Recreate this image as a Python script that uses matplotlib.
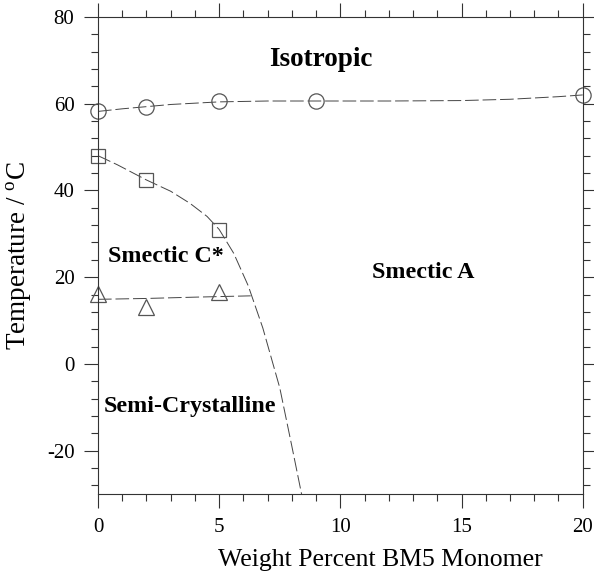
import numpy as np
import matplotlib
matplotlib.use("Agg")
import matplotlib.pyplot as plt
from matplotlib.ticker import MultipleLocator

plt.rcParams['font.family'] = ['Liberation Serif', 'DejaVu Serif']
plt.rcParams['mathtext.fontset'] = 'custom'
plt.rcParams['mathtext.rm'] = 'Liberation Serif'
plt.rcParams['axes.unicode_minus'] = False

# measured points
iso_x = [0, 2, 5, 9, 20]
iso_y = [58.3, 59.2, 60.5, 60.5, 62.0]
sq_x = [0, 2, 5]
sq_y = [48.0, 42.4, 30.9]
tri_x = [0, 2, 5]
tri_y = [16.2, 13.2, 16.5]

# boundary lines as drawn in the figure
iso_line_x = [0, 1, 2, 3, 5, 7, 9, 12, 15, 17, 18, 19, 20]
iso_line_y = [58.2, 58.8, 59.3, 59.8, 60.4, 60.6, 60.6, 60.6, 60.7, 61.0, 61.3, 61.6, 62.0]
ca_line_x = [0, 0.8, 2, 3.0, 3.8, 4.5, 5, 5.6, 6.2, 6.8, 7.5, 8.0, 8.4]
ca_line_y = [48.0, 45.9, 42.4, 39.8, 37.0, 34.0, 31.0, 25.5, 18.0, 8.3, -5.5, -19.0, -30.0]
cs_line_x = [0, 2, 4, 6.3]
cs_line_y = [14.9, 15.1, 15.4, 15.7]

fig = plt.figure(figsize=(5.94, 5.80), dpi=100)
ax = fig.add_axes([0.165, 0.148, 0.816, 0.823])

lc = '#444444'
ax.plot(iso_line_x, iso_line_y, color=lc, lw=0.7, dashes=(14, 4))
ax.plot(ca_line_x, ca_line_y, color=lc, lw=0.7, dashes=(14, 4))
ax.plot(cs_line_x, cs_line_y, color=lc, lw=0.7, dashes=(14, 4))

mc = '#555555'
ax.plot(iso_x, iso_y, 'o', ms=11, mfc='none', mec=mc, mew=0.9, clip_on=False)
ax.plot(sq_x, sq_y, 's', ms=9.5, mfc='none', mec=mc, mew=0.9, clip_on=False)
ax.plot(tri_x, tri_y, '^', ms=11, mfc='none', mec=mc, mew=0.9, clip_on=False)

ax.text(9.2, 70.1, 'Isotropic', ha='center', va='center', fontsize=19.5, fontweight='bold')
ax.text(2.8, 24.7, 'Smectic C*', ha='center', va='center', fontsize=17.3, fontweight='bold')
ax.text(13.4, 21.0, 'Smectic A', ha='center', va='center', fontsize=17.3, fontweight='bold')
ax.text(3.8, -9.9, 'Semi-Crystalline', ha='center', va='center', fontsize=17.3, fontweight='bold')

ax.set_xlim(0, 20)
ax.set_ylim(-30, 80)
ax.xaxis.set_major_locator(MultipleLocator(5))
ax.xaxis.set_minor_locator(MultipleLocator(1))
ax.yaxis.set_major_locator(MultipleLocator(20))
ax.yaxis.set_minor_locator(MultipleLocator(4))
ax.tick_params(which='both', direction='out', top=True, right=True,
               labelsize=15, color='#333333', width=0.8)
ax.tick_params(which='major', length=10, pad=7)
ax.tick_params(which='minor', length=5)
for s in ax.spines.values():
    s.set_linewidth(0.8)
    s.set_color('#333333')

ax.set_xlabel('Weight Percent BM5 Monomer', fontsize=18.5, labelpad=6)
ax.xaxis.set_label_coords(0.583, -0.115)
ax.set_ylabel('Temperature / $^{\\rm o}$C', fontsize=19.5)
ax.yaxis.set_label_coords(-0.133, 0.5)

fig.savefig('out.png', dpi=100)
